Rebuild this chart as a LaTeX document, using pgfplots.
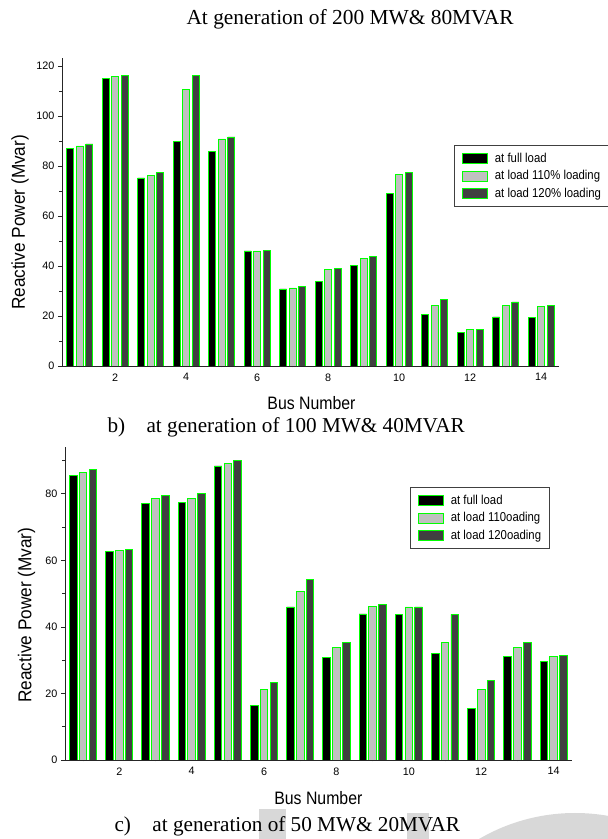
\documentclass[border=0pt]{standalone}
\usepackage{fontspec}
\setmainfont{Liberation Serif}
\newfontfamily\condsans[FakeStretch=0.88]{Liberation Sans}
\newfontfamily\plainsans{Liberation Sans}
\usepackage{graphicx}
\usepackage{pgfplots}
\usepackage{pgfplotstable}
\pgfplotsset{compat=1.18}

\definecolor{edge}{RGB}{0,255,0}
\definecolor{lgray}{RGB}{192,192,192}
\definecolor{dgray}{RGB}{64,64,64}
\definecolor{stampgray}{RGB}{216,216,216}

% Reactive power per bus, generation 200 MW & 80 MVAR
\pgfplotstableread{
bus full l110 l120
1  87.1  88.0  88.8
2  114.9 115.7 116.3
3  75.2  76.3  77.5
4  89.9  110.7 116.3
5  85.9  90.8  91.6
6  46.0  46.0  46.1
7  30.8  31.2  31.9
8  33.7  38.7  39.1
9  40.3  43.1  43.7
10 69.1  76.7  77.5
11 20.5  24.3  26.5
12 13.3  14.7  14.7
13 19.6  24.1  25.6
14 19.5  23.9  24.3
}\genhigh

% Reactive power per bus, generation 100 MW & 40 MVAR
\pgfplotstableread{
bus full l110 l120
1  85.6  86.4  87.2
2  62.6  63.1  63.2
3  77.1  78.5  79.6
4  77.4  78.7  80.1
5  88.4  89.2  90.0
6  16.4  21.2  23.3
7  46.0  50.8  54.2
8  30.9  33.9  35.3
9  43.9  46.2  46.7
10 43.8  46.0  46.0
11 32.0  35.3  43.8
12 15.4  21.2  23.9
13 31.1  33.8  35.3
14 29.5  31.2  31.4
}\genmid

\newcommand{\qlabel}{\resizebox{175pt}{13.5pt}{\plainsans Reactive Power (Mvar)}}

\pgfplotsset{
  busbars/.style={
    scale only axis,
    ybar,
    xmin=0.5, xmax=14.5, ymin=0,
    axis lines=left,
    axis line style={-, line width=0.9pt, black!85},
    tick align=outside,
    major tick length=4pt,
    minor tick length=2.5pt,
    tick style={black!85, line width=0.8pt},
    xtick={1,3,...,13},
    xticklabels={},
    x tick style={yshift=2.5pt},
    extra x ticks={2,4,...,14},
    extra x tick style={major x tick style={draw=none}},
    tick label style={font=\plainsans\fontsize{10.8}{12}\selectfont},
    /pgf/number format/assume math mode=true,
    xlabel={Bus Number},
    ylabel={\qlabel},
    xlabel style={font=\condsans\fontsize{18}{20}\selectfont, anchor=center},
    ylabel style={anchor=center, inner sep=0pt},
    legend cell align=left,
    legend image code/.code={\draw[#1] (0pt,-5pt) rectangle (25pt,5pt);},
    legend style={
      draw=black!75, line width=0.8pt, fill=white,
      font=\condsans\fontsize{12.9}{14}\selectfont,
      inner xsep=7.5pt, inner ysep=7pt,
      row sep=4.3pt,
      nodes={inner sep=1pt},
      /tikz/every odd column/.append style={column sep=6pt},
      anchor=north west,
    },
  },
  fullbar/.style={fill=black, draw=edge, line width=0.9pt},
  midbar/.style={fill=lgray, draw=edge, line width=0.9pt},
  highbar/.style={fill=dgray, draw=edge, line width=0.9pt},
}

\begin{document}
\begin{tikzpicture}
\path[use as bounding box] (0pt,0pt) rectangle (608pt,839pt);

% faint stamp shapes behind the lower caption
\fill[stampgray] (259pt,0pt) rectangle (286pt,30pt);
\fill[stampgray] (407pt,0pt) rectangle (429pt,26pt);
\begin{scope}
  \clip (0pt,0pt) rectangle (608pt,839pt);
  \fill[stampgray, even odd rule] (575pt,-164pt) circle[radius=190pt]
                                  (575pt,-164pt) circle[radius=160pt];
\end{scope}

\node[anchor=base west, font=\fontsize{21.4}{24}\selectfont] at (183pt,814pt)
  {At generation of 200 MW\& 80MVAR};

\begin{axis}[busbars,
  at={(62pt,473pt)}, anchor=south west,
  width=497pt, height=308pt,
  ymax=123.2,
  ytick={0,20,...,120},
  minor ytick={10,30,...,110},
  bar width=0.2,
  xlabel style={at={(axis description cs:0.502,-0.12)}},
  ylabel style={at={(axis description cs:-0.0845,0.466)}},
  legend style={at={(axis description cs:0.789,0.7175)}},
]
\addplot[fullbar, bar shift=-0.27] table[x=bus, y=full] {\genhigh};
\addplot[midbar,  bar shift=0]     table[x=bus, y=l110] {\genhigh};
\addplot[highbar, bar shift=0.27]  table[x=bus, y=l120] {\genhigh};
\legend{at full load, at load 110\% loading, at load 120\% loading}
\end{axis}

\node[anchor=base west, font=\fontsize{21.2}{24}\selectfont] at (104pt,406pt)
  {b)\hspace{21.4pt}at generation of 100 MW\& 40MVAR};

\begin{axis}[busbars,
  at={(65pt,79pt)}, anchor=south west,
  width=506.7pt, height=313pt,
  ymax=94.1,
  ytick={0,20,...,80},
  minor ytick={10,30,...,90},
  bar width=0.21,
  xlabel style={at={(axis description cs:0.5,-0.121)}},
  ylabel style={at={(axis description cs:-0.076,0.463)}},
  legend style={at={(axis description cs:0.681,0.872)}},
]
\addplot[fullbar, bar shift=-0.27] table[x=bus, y=full] {\genmid};
\addplot[midbar,  bar shift=0]     table[x=bus, y=l110] {\genmid};
\addplot[highbar, bar shift=0.27]  table[x=bus, y=l120] {\genmid};
\legend{at full load, at load 110oading, at load 120oading}
\end{axis}

\node[anchor=base west, font=\fontsize{21.2}{24}\selectfont] at (111pt,8pt)
  {c)\hspace{21.4pt}at generation of 50 MW\& 20MVAR};
\end{tikzpicture}
\end{document}
